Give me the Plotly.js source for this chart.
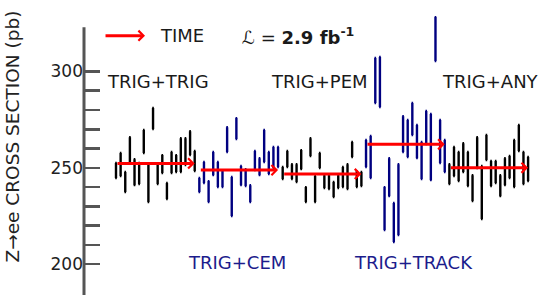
<!DOCTYPE html>
<html>
<head>
<meta charset="utf-8">
<script src="https://cdn.plot.ly/plotly-3.0.1.min.js"></script>
<style>html,body{margin:0;padding:0;background:#fff}#chart{width:548px;height:295px}</style>
</head>
<body>
<div id="chart"></div>
<script>
// Group names (stream order in time)
const groupNames = ["TRIG+TRIG", "TRIG+CEM", "TRIG+PEM", "TRIG+TRACK", "TRIG+ANY"];
// Measured cross-section ranges (pb) per run period: upper and lower ends
const trigTrigHi = [252.5,257.7,247.8,265.9,254.5,252.5,269.6,251.9,281.0,251.4,256.6,242.1,258.2,256.6,265.4,265.4,269.0,258.7];
const trigTrigLo = [244.7,245.7,237.4,253.0,241.0,241.6,257.7,232.2,270.1,241.6,247.3,233.8,247.3,247.8,247.8,251.4,256.6,248.3];
const trigCemHi = [244.7,253.0,243.1,258.2,253.0,248.8,271.1,245.2,275.8,250.9,249.3,241.0,258.7,255.0,269.6,258.2,260.8,260.8];
const trigCemLo = [237.4,242.1,232.2,246.2,240.0,240.0,258.2,225.0,264.9,241.0,240.5,232.2,248.8,246.2,253.0,246.8,249.9,250.4];
const trigPemHi = [250.4,258.7,251.9,251.9,259.2,240.0,265.4,245.7,257.7,246.2,246.2,242.6,246.2,250.4,251.9,263.4,248.3,247.8];
const trigPemLo = [244.2,250.4,244.2,242.6,249.3,232.2,256.1,232.2,249.9,239.5,239.0,234.8,239.5,240.0,239.0,255.6,240.0,240.5];
const trigTrackHi = [264.4,266.5,307.0,307.5,240.0,255.0,231.7,251.9,276.8,274.8,283.6,272.2,263.4,279.5,277.9,328.2,274.8,264.4];
const trigTrackLo = [250.4,244.7,283.6,281.5,217.7,235.3,211.5,215.1,258.2,255.6,267.0,255.0,244.2,262.3,243.6,305.4,252.5,247.8];
const trigAnyHi = [251.9,260.8,258.2,262.8,258.2,246.2,265.9,250.9,267.0,253.5,253.5,246.2,255.0,256.1,264.4,272.2,258.2,255.6];
const trigAnyLo = [241.6,245.7,243.1,247.8,240.5,232.8,249.9,223.4,254.0,240.5,242.1,235.3,241.0,244.7,240.0,258.7,241.6,243.1];
// Average cross section per group (red arrows)
const groupMeans = [252.3, 248.8, 246.8, 262.2, 250.0];
// Y tick values and labels
const yTickVals = [200,210,220,230,240,250,260,270,280,290,300];
const yTickText = ["200","","","","","250","","","","","300"];

const his = [trigTrigHi, trigCemHi, trigPemHi, trigTrackHi, trigAnyHi];
const los = [trigTrigLo, trigCemLo, trigPemLo, trigTrackLo, trigAnyLo];
const colors = ["#000000", "#000080", "#000000", "#000080", "#000000"];
const labelColors = ["#1a1a1a", "#1c1c8c", "#1a1a1a", "#1c1c8c", "#1a1a1a"];

const FONT = "DejaVu Sans, Noto Sans, sans-serif";
const traces = [];
const annotations = [];
let start = 0;
for (let g = 0; g < groupNames.length; g++) {
  const hi = his[g], lo = los[g];
  const x = [], y = [], ep = [], em = [];
  for (let i = 0; i < hi.length; i++) {
    x.push(start + i);
    const mid = (hi[i] + lo[i]) / 2;
    y.push(mid);
    ep.push(hi[i] - mid);
    em.push(mid - lo[i]);
  }
  traces.push({
    type: "scatter", mode: "markers", x: x, y: y, name: groupNames[g],
    marker: {size: 1, color: "rgba(0,0,0,0)"},
    error_y: {type: "data", symmetric: false, array: ep, arrayminus: em,
              color: colors[g], thickness: 2.4, width: 0.8},
    showlegend: false, hoverinfo: "skip"
  });
  annotations.push({
    x: start + hi.length - 1, y: groupMeans[g], ax: start, ay: groupMeans[g],
    xref: "x", yref: "y", axref: "x", ayref: "y", text: "", showarrow: true,
    arrowcolor: "#ff0000", arrowwidth: 3, arrowhead: 4, arrowsize: 0.65
  });
  start += hi.length;
}

// Group labels
const labelPos = [[0.1595, 0.734], [0.3287, 0.110], [0.5086, 0.734], [0.7112, 0.1134], [0.875, 0.734]];
for (let g = 0; g < groupNames.length; g++) {
  annotations.push({
    xref: "paper", yref: "paper", x: labelPos[g][0], y: labelPos[g][1],
    xanchor: "center", yanchor: "middle", showarrow: false, text: groupNames[g],
    font: {family: FONT, size: 18, color: labelColors[g]}
  });
}
// TIME legend arrow
annotations.push({
  xref: "paper", yref: "paper", x: 0.1315, y: 0.891, ax: -41, ay: 0,
  axref: "pixel", ayref: "pixel", text: "", showarrow: true,
  arrowcolor: "#ff0000", arrowwidth: 3, arrowhead: 4, arrowsize: 0.65
});
annotations.push({
  xref: "paper", yref: "paper", x: 0.1595, y: 0.891, xanchor: "left", yanchor: "middle",
  showarrow: false, text: "TIME", font: {family: FONT, size: 18, color: "#1a1a1a"}
});
annotations.push({
  xref: "paper", yref: "paper", x: 0.336, y: 0.891, xanchor: "left", yanchor: "middle",
  showarrow: false, text: "ℒ = <b>2.9 fb<sup>-1</sup></b>", font: {family: FONT, size: 18, color: "#1a1a1a"}
});
// Y axis title
annotations.push({
  xref: "paper", yref: "paper", x: -0.155, y: 0.545, xanchor: "center", yanchor: "middle",
  textangle: -90, showarrow: false, text: "Z→ee CROSS SECTION (pb)",
  font: {family: FONT, size: 18.5, color: "#222"}
});

const layout = {
  width: 548, height: 295,
  margin: {l: 84, r: 0, t: 4, b: 0},
  paper_bgcolor: "#fff", plot_bgcolor: "#fff",
  showlegend: false,
  xaxis: {range: [-6.91, 93.3], visible: false, fixedrange: true},
  yaxis: {
    range: [184, 335], showgrid: false, zeroline: false, showline: false,
    tickmode: "array", tickvals: yTickVals, ticktext: yTickText,
    ticks: "inside", ticklen: 16, tickwidth: 2.5, tickcolor: "#555",
    tickfont: {family: FONT, size: 17, color: "#222"}
  },
  shapes: [{type: "line", xref: "paper", yref: "y", x0: 0, x1: 0, y0: 184, y1: 323,
            line: {color: "#555", width: 3}}],
  annotations: annotations
};

Plotly.newPlot("chart", traces, layout, {staticPlot: true, displayModeBar: false});
</script>
</body>
</html>
